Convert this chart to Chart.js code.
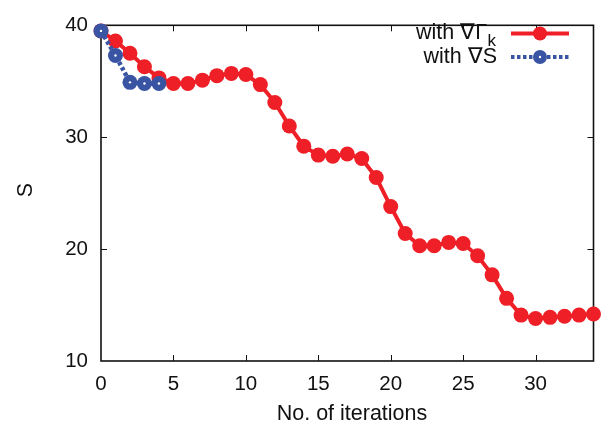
<!DOCTYPE html>
<html>
<head>
<meta charset="utf-8">
<script src="https://cdn.jsdelivr.net/npm/chart.js@4.4.1/dist/chart.umd.min.js"></script>
<style>
  html, body { margin: 0; padding: 0; background: #fff; }
</style>
</head>
<body>
<canvas id="sChart" width="601" height="427"></canvas>
<script>
// S versus iteration count for the two gradient choices
var iterations = [0, 1, 2, 3, 4, 5, 6, 7, 8, 9, 10, 11, 12, 13, 14, 15, 16, 17,
                  18, 19, 20, 21, 22, 23, 24, 25, 26, 27, 28, 29, 30, 31, 32, 33, 34];
var sGamma = [39.5, 38.6, 37.5, 36.3, 35.3, 34.8, 34.8, 35.1, 35.5, 35.7, 35.6, 34.7,
              33.1, 31.0, 29.2, 28.4, 28.3, 28.5, 28.1, 26.4, 23.8, 21.4, 20.3, 20.3,
              20.6, 20.5, 19.4, 17.7, 15.6, 14.1, 13.8, 13.9, 14.0, 14.1, 14.2];
var iterationsS = [0, 1, 2, 3, 4];
var sGradS = [39.5, 37.3, 34.9, 34.8, 34.8];

var xTicks = [0, 5, 10, 15, 20, 25, 30];
var yTicks = [10, 20, 30, 40];

var RED = '#ee1f26';
var BLUE = '#3a54a4';
var INK = '#111';
var FONT = '"Liberation Sans", Arial, Helvetica, sans-serif';
var TICK_SIZE = 20.5;
var TEXT_SIZE = 21.5;

function pts(xs, ys) {
  return xs.map(function (x, i) { return { x: x, y: ys[i] }; });
}

// gnuplot style box with inward ticks, axis titles and key
var framePlugin = {
  id: 'frame',
  beforeDatasetsDraw: function (chart) {
    var c = chart.ctx, a = chart.chartArea;
    var xs = chart.scales.x, ys = chart.scales.y;
    c.save();
    c.strokeStyle = INK;
    c.lineWidth = 1.6;
    c.strokeRect(a.left, a.top, a.right - a.left, a.bottom - a.top);
    c.lineWidth = 1;
    c.beginPath();
    xTicks.forEach(function (v) {
      var px = Math.round(xs.getPixelForValue(v)) + 0.5;
      if (v === xs.min || v === xs.max) return;
      c.moveTo(px, a.bottom); c.lineTo(px, a.bottom - 6);
      c.moveTo(px, a.top); c.lineTo(px, a.top + 6);
    });
    yTicks.forEach(function (v) {
      var py = Math.round(ys.getPixelForValue(v)) + 0.5;
      if (v === ys.min || v === ys.max) return;
      c.moveTo(a.left, py); c.lineTo(a.left + 6, py);
      c.moveTo(a.right, py); c.lineTo(a.right - 6, py);
    });
    c.stroke();
    c.restore();
  },
  afterDraw: function (chart) {
    var c = chart.ctx, a = chart.chartArea;
    c.save();
    c.fillStyle = INK;
    c.font = TEXT_SIZE + 'px ' + FONT;
    c.textBaseline = 'alphabetic';

    // axis titles
    c.textAlign = 'center';
    c.fillText('No. of iterations', 352, 420);
    c.save();
    c.translate(31.5, 190);
    c.rotate(-Math.PI / 2);
    c.fillText('S', 0, 0);
    c.restore();

    // white centre dots on the blue markers
    var meta = chart.getDatasetMeta(1);
    c.fillStyle = '#fff';
    meta.data.forEach(function (p) {
      c.beginPath(); c.arc(p.x, p.y, 1.2, 0, Math.PI * 2); c.fill();
    });

    // key
    c.fillStyle = INK;
    c.textAlign = 'right';
    var kW = 10;
    c.fillText('with \u2207\u0393', 497 - kW, 39);
    c.font = '17px ' + FONT;
    c.textAlign = 'left';
    c.fillText('k', 497 - kW + 0.5, 45.5);
    c.font = TEXT_SIZE + 'px ' + FONT;
    c.textAlign = 'right';
    c.fillText('with \u2207S', 497, 63);

    c.strokeStyle = RED; c.lineWidth = 4;
    c.beginPath(); c.moveTo(511, 33.5); c.lineTo(569, 33.5); c.stroke();
    c.fillStyle = RED;
    c.beginPath(); c.arc(540, 33.5, 7, 0, Math.PI * 2); c.fill();

    c.strokeStyle = BLUE; c.lineWidth = 4; c.setLineDash([3.5, 2.5]);
    c.beginPath(); c.moveTo(511, 57); c.lineTo(569, 57); c.stroke();
    c.setLineDash([]);
    c.fillStyle = BLUE;
    c.beginPath(); c.arc(540, 57, 7, 0, Math.PI * 2); c.fill();
    c.fillStyle = '#fff';
    c.beginPath(); c.arc(540, 57, 1.2, 0, Math.PI * 2); c.fill();
    c.restore();
  }
};

var ctx = document.getElementById('sChart').getContext('2d');
var sChart = new Chart(ctx, {
  type: 'scatter',
  data: {
    datasets: [{
      label: 'with \u2207\u0393k',
      data: pts(iterations, sGamma),
      showLine: true,
      borderColor: RED,
      borderWidth: 4,
      backgroundColor: RED,
      pointRadius: 7.5,
      pointBorderWidth: 0,
      pointHoverRadius: 7.5,
      clip: false,
      order: 1
    }, {
      label: 'with \u2207S',
      data: pts(iterationsS, sGradS),
      showLine: true,
      borderColor: BLUE,
      borderWidth: 4.5,
      borderDash: [3.5, 2.5],
      backgroundColor: BLUE,
      pointRadius: 7.5,
      pointBorderWidth: 0,
      pointHoverRadius: 7.5,
      clip: false,
      order: 0
    }]
  },
  options: {
    responsive: false,
    animation: false,
    devicePixelRatio: 1,
    layout: { padding: { left: 0, right: 6, top: 17, bottom: 0 } },
    plugins: {
      legend: { display: false },
      tooltip: { enabled: false }
    },
    scales: {
      x: {
        type: 'linear',
        min: 0,
        max: 34,
        afterFit: function (s) { s.height = 66; },
        afterBuildTicks: function (s) { s.ticks = xTicks.map(function (v) { return { value: v }; }); },
        grid: { display: false, drawTicks: false },
        border: { display: false },
        ticks: { color: INK, font: { family: FONT, size: TICK_SIZE }, padding: 11, maxRotation: 0 }
      },
      y: {
        type: 'linear',
        min: 10,
        max: 40,
        afterFit: function (s) { s.width = 101; },
        afterBuildTicks: function (s) { s.ticks = yTicks.map(function (v) { return { value: v }; }); },
        grid: { display: false, drawTicks: false },
        border: { display: false },
        ticks: { color: INK, font: { family: FONT, size: TICK_SIZE }, padding: 13 }
      }
    }
  },
  plugins: [framePlugin]
});
</script>
</body>
</html>
